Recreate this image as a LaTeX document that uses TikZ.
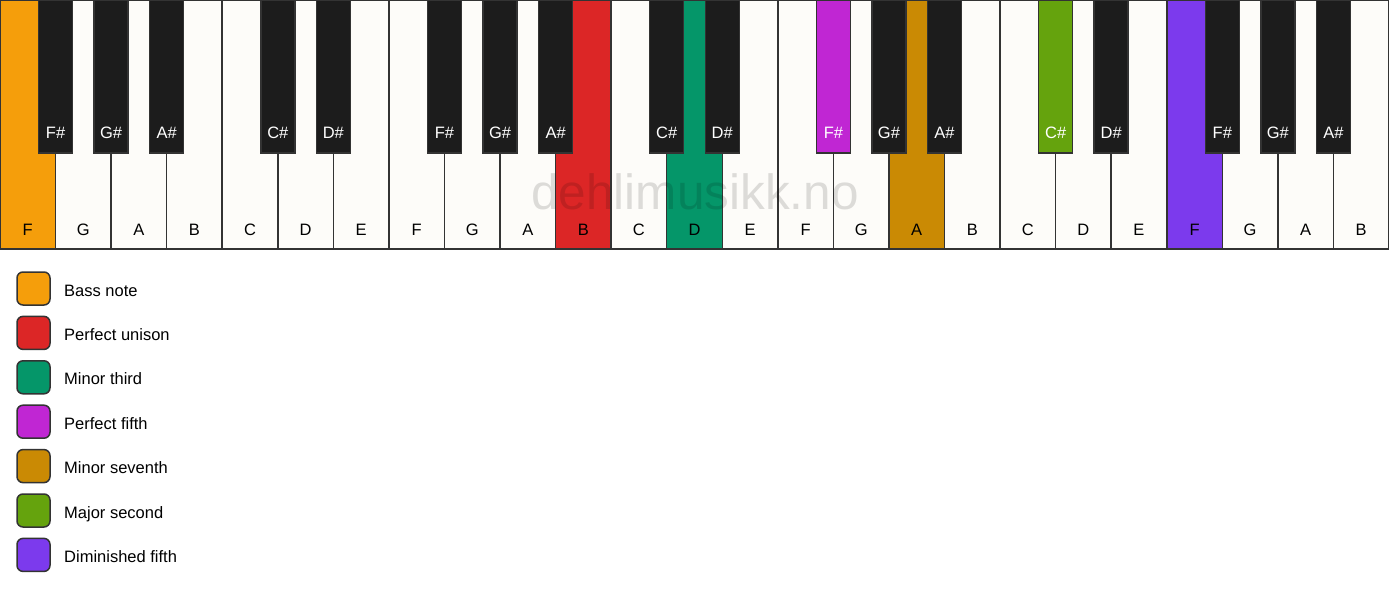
\documentclass[tikz,border=0pt]{standalone}
\usepackage{fontspec}
\setmainfont{Liberation Sans}
\usetikzlibrary{calc}
\definecolor{wk}{HTML}{FDFCF9}
\definecolor{bk}{HTML}{1C1C1C}
\definecolor{edge}{HTML}{333333}
\definecolor{cbass}{HTML}{F59E0B}
\definecolor{cuni}{HTML}{DC2626}
\definecolor{cmin3}{HTML}{059669}
\definecolor{cp5}{HTML}{C026D3}
\definecolor{cmin7}{HTML}{CA8A04}
\definecolor{cmaj2}{HTML}{65A30D}
\definecolor{cdim5}{HTML}{7C3AED}
\begin{document}
\begin{tikzpicture}[x=1pt,y=-1pt,
  whitekey/.style={draw=edge,line width=1.5pt,minimum width=55.56pt,minimum height=249pt,anchor=north west,inner sep=0pt,outer sep=0pt},
  blackkey/.style={draw=edge,line width=1.5pt,minimum width=34pt,minimum height=153pt,anchor=north,inner sep=0pt,outer sep=0pt},
  wlabel/.style={font=\fontsize{16.5}{16.5}\selectfont,text=black,anchor=base},
  blabel/.style={font=\fontsize{16.5}{16.5}\selectfont,text=white,anchor=base},
  legbox/.style={draw=edge,line width=1.5pt,rounded corners=6pt,minimum width=33pt,minimum height=33pt,inner sep=0pt,anchor=center},
  legtext/.style={font=\fontsize{16.5}{16.5}\selectfont,anchor=base west,inner sep=0pt}]
\useasboundingbox[fill=white] (0,0) rectangle (1389,594);
% white keys
\foreach \i/\n/\c in {0/F/cbass,1/G/wk,2/A/wk,3/B/wk,4/C/wk,5/D/wk,6/E/wk,7/F/wk,8/G/wk,9/A/wk,10/B/cuni,11/C/wk,12/D/cmin3,13/E/wk,14/F/wk,15/G/wk,16/A/cmin7,17/B/wk,18/C/wk,19/D/wk,20/E/wk,21/F/cdim5,22/G/wk,23/A/wk,24/B/wk}{
  \node[whitekey,fill=\c] (w\i) at ({\i*55.56},0) {};
  \node[wlabel] (wl\i) at ({\i*55.56+27.78},235.8) {\n};
}
% watermark
\node[font=\fontsize{49.5}{49.5}\selectfont,text=black,opacity=0.13,anchor=base] (wm) at (695,209) {dehlimusikk.no};
% black keys
\foreach \i/\n/\c in {1/F\#/bk,2/G\#/bk,3/A\#/bk,5/C\#/bk,6/D\#/bk,8/F\#/bk,9/G\#/bk,10/A\#/bk,12/C\#/bk,13/D\#/bk,15/F\#/cp5,16/G\#/bk,17/A\#/bk,19/C\#/cmaj2,20/D\#/bk,22/F\#/bk,23/G\#/bk,24/A\#/bk}{
  \node[blackkey,fill=\c] (b\i) at ({\i*55.56},0) {};
  \node[blabel] (bl\i) at ({\i*55.56},138.8) {\n};
}
% legend
\foreach \k/\c/\t in {0/cbass/Bass note,1/cuni/Perfect unison,2/cmin3/Minor third,3/cp5/Perfect fifth,4/cmin7/Minor seventh,5/cmaj2/Major second,6/cdim5/Diminished fifth}{
  \node[legbox,fill=\c] (lb\k) at (33.5,{288.5+\k*44.4}) {};
  \node[legtext] (lt\k) at ($(lb\k.center)+(30.5,7.5)$) {\t};
}
\end{tikzpicture}
\end{document}
